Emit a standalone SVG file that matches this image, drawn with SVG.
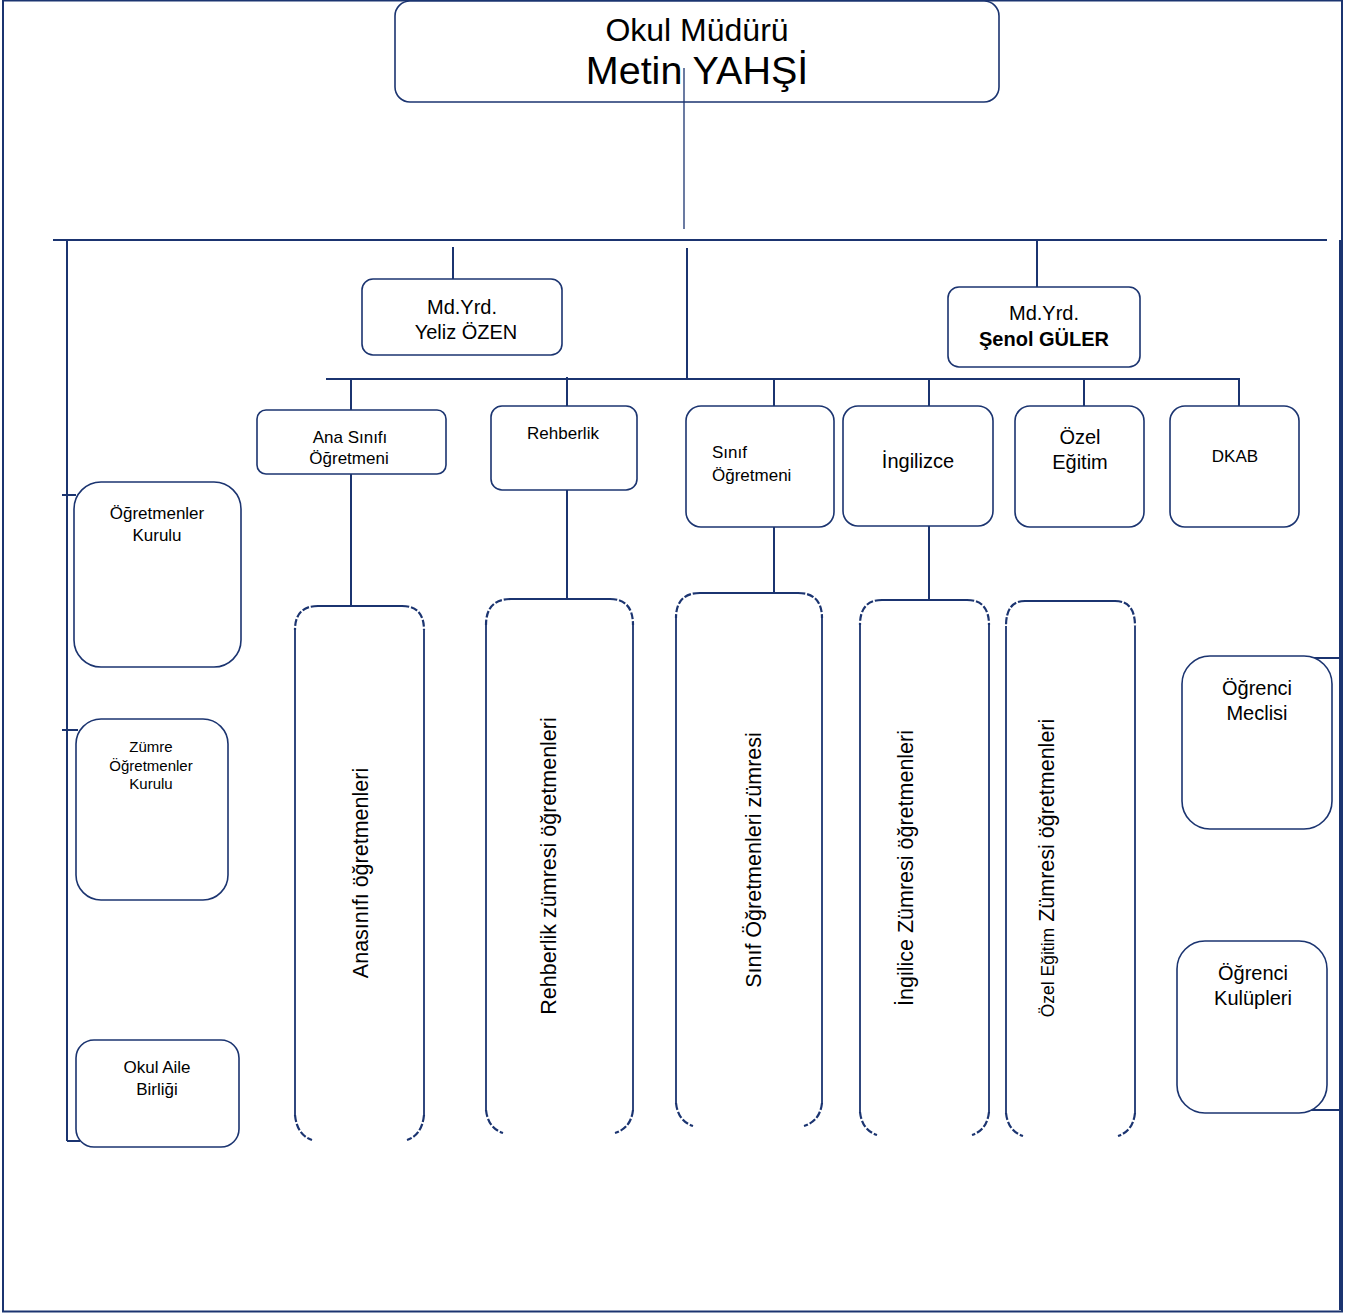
<svg xmlns="http://www.w3.org/2000/svg" width="1357" height="1313" viewBox="0 0 1357 1313">
<style>
.ln{stroke:#1b3470;stroke-width:2;fill:none}
.bx{stroke:#1b3470;stroke-width:1.6;fill:#fff}
.tall{stroke:#1b3470;stroke-width:1.8;fill:none}
.dash{stroke:#1b3470;stroke-width:2.2;fill:none;stroke-dasharray:7 2}
text{font-family:"Liberation Sans",Arial,sans-serif;fill:#000;text-anchor:middle}
text.st{text-anchor:start}
</style>
<rect x="0" y="0" width="1357" height="1313" fill="#fff"/>
<rect x="3" y="0.5" width="1339" height="1311" class="ln"/>
<g id="connectors">
<line x1="684" y1="68" x2="684" y2="229" stroke="#1b3470" stroke-width="1.3"/>
<line x1="53" y1="240" x2="1327" y2="240" class="ln"/>
<line x1="67" y1="240" x2="67" y2="1141" class="ln"/>
<line x1="67" y1="1141" x2="80" y2="1141" class="ln"/>
<line x1="62" y1="495" x2="76" y2="495" class="ln"/>
<line x1="62" y1="730" x2="78" y2="730" class="ln"/>
<line x1="1340" y1="240" x2="1340" y2="1310" class="ln"/>
<line x1="1310" y1="658" x2="1340" y2="658" class="ln"/>
<line x1="1310" y1="1110" x2="1340" y2="1110" class="ln"/>
<line x1="453" y1="247" x2="453" y2="279" class="ln"/>
<line x1="1037" y1="241" x2="1037" y2="287" class="ln"/>
<line x1="687" y1="248" x2="687" y2="379" class="ln"/>
<line x1="326" y1="379" x2="1240" y2="379" class="ln"/>
<line x1="351" y1="379" x2="351" y2="410" class="ln"/>
<line x1="567" y1="377" x2="567" y2="406" class="ln"/>
<line x1="774" y1="379" x2="774" y2="406" class="ln"/>
<line x1="929" y1="379" x2="929" y2="406" class="ln"/>
<line x1="1084" y1="379" x2="1084" y2="406" class="ln"/>
<line x1="1239" y1="379" x2="1239" y2="406" class="ln"/>
<line x1="351" y1="474" x2="351" y2="606" class="ln"/>
<line x1="567" y1="490" x2="567" y2="599" class="ln"/>
<line x1="774" y1="527" x2="774" y2="593" class="ln"/>
<line x1="929" y1="526" x2="929" y2="600" class="ln"/>
</g>
<g id="mudur">
<rect x="395" y="1" width="604" height="101" rx="15" class="bx"/>
<line x1="684" y1="68" x2="684" y2="102" stroke="#1b3470" stroke-width="1.3"/>
<text x="697" y="41" font-size="32">Okul Müdürü</text>
<text x="697" y="84" font-size="39.5">Metin YAHŞİ</text>
</g>
<g id="yrd1">
<rect x="362" y="279" width="200" height="76" rx="11" class="bx"/>
<text x="462" y="314" font-size="20">Md.Yrd.</text>
<text x="466" y="339" font-size="20">Yeliz ÖZEN</text>
</g>
<g id="yrd2">
<rect x="948" y="287" width="192" height="80" rx="11" class="bx"/>
<text x="1044" y="320" font-size="20">Md.Yrd.</text>
<text x="1044" y="346" font-size="20" font-weight="bold">Şenol GÜLER</text>
</g>
<g id="anasinifi">
<rect x="257" y="410" width="189" height="64" rx="9" class="bx"/>
<text x="350" y="443" font-size="17">Ana Sınıfı</text>
<text x="349" y="464" font-size="17">Öğretmeni</text>
</g>
<g id="rehberlik">
<rect x="491" y="406" width="146" height="84" rx="11" class="bx"/>
<text x="563" y="439" font-size="17">Rehberlik</text>
</g>
<g id="sinif">
<rect x="686" y="406" width="148" height="121" rx="15" class="bx"/>
<text x="712" y="458" font-size="17" class="st">Sınıf</text>
<text x="712" y="481" font-size="17" class="st">Öğretmeni</text>
</g>
<g id="ingilizce">
<rect x="843" y="406" width="150" height="120" rx="15" class="bx"/>
<text x="918" y="468" font-size="20">İngilizce</text>
</g>
<g id="ozel">
<rect x="1015" y="406" width="129" height="121" rx="15" class="bx"/>
<text x="1080" y="444" font-size="20">Özel</text>
<text x="1080" y="469" font-size="20">Eğitim</text>
</g>
<g id="dkab">
<rect x="1170" y="406" width="129" height="121" rx="15" class="bx"/>
<text x="1235" y="462" font-size="17">DKAB</text>
</g>
<g id="z-anasinifi">
<path class="tall" d="M318 606 H402 M295 630 V1115 M424 630 V1115"/>
<path class="dash" d="M318 606 Q295 606 295 630 M402 606 Q424 606 424 630 M295 1115 Q297 1135 312 1140 M424 1115 Q422 1135 407 1140"/>
<text transform="translate(368 873) rotate(-90)" font-size="21.5">Anasınıfı öğretmenleri</text>
</g>
<g id="z-rehberlik">
<path class="tall" d="M511 599 H610 M486 625 V1110 M633 625 V1110"/>
<path class="dash" d="M511 599 Q486 599 486 625 M610 599 Q633 599 633 625 M486 1110 Q488 1128 503 1133 M633 1110 Q631 1128 615 1133"/>
<text transform="translate(556 866) rotate(-90)" font-size="21.5">Rehberlik zümresi öğretmenleri</text>
</g>
<g id="z-sinif">
<path class="tall" d="M700 593 H798 M676 618 V1103 M822 618 V1103"/>
<path class="dash" d="M700 593 Q676 593 676 618 M798 593 Q822 593 822 618 M676 1103 Q678 1121 693 1126 M822 1103 Q820 1121 804 1126"/>
<text transform="translate(761 860) rotate(-90)" font-size="21.5">Sınıf Öğretmenleri zümresi</text>
</g>
<g id="z-ingilizce">
<path class="tall" d="M882 600 H967 M860 625 V1112 M989 625 V1112"/>
<path class="dash" d="M882 600 Q860 600 860 625 M967 600 Q989 600 989 625 M860 1112 Q862 1130 877 1135 M989 1112 Q987 1130 972 1135"/>
<text transform="translate(913 868) rotate(-90)" font-size="21.5">İngilice Zümresi öğretmenleri</text>
</g>
<g id="z-ozel">
<path class="tall" d="M1025 601 H1115 M1006 626 V1113 M1135 626 V1113"/>
<path class="dash" d="M1025 601 Q1006 601 1006 626 M1115 601 Q1135 601 1135 626 M1006 1113 Q1008 1131 1023 1136 M1135 1113 Q1133 1131 1118 1136"/>
<text transform="translate(1054 868) rotate(-90)" font-size="21.5"><tspan font-size="17.5">Özel Eğitim</tspan> Zümresi öğretmenleri</text>
</g>
<g id="ogretmenler-kurulu">
<rect x="74" y="482" width="167" height="185" rx="27" class="bx"/>
<text x="157" y="519" font-size="17">Öğretmenler</text>
<text x="157" y="541" font-size="17">Kurulu</text>
</g>
<g id="zumre-kurulu">
<rect x="76" y="719" width="152" height="181" rx="25" class="bx"/>
<text x="151" y="752" font-size="15">Zümre</text>
<text x="151" y="771" font-size="15">Öğretmenler</text>
<text x="151" y="789" font-size="15">Kurulu</text>
</g>
<g id="okul-aile">
<rect x="76" y="1040" width="163" height="107" rx="18" class="bx"/>
<text x="157" y="1073" font-size="17">Okul Aile</text>
<text x="157" y="1095" font-size="17">Birliği</text>
</g>
<g id="ogrenci-meclisi">
<rect x="1182" y="656" width="150" height="173" rx="28" class="bx"/>
<text x="1257" y="695" font-size="20">Öğrenci</text>
<text x="1257" y="720" font-size="20">Meclisi</text>
</g>
<g id="ogrenci-kulupleri">
<rect x="1177" y="941" width="150" height="172" rx="28" class="bx"/>
<text x="1253" y="980" font-size="20">Öğrenci</text>
<text x="1253" y="1005" font-size="20">Kulüpleri</text>
</g>
</svg>
